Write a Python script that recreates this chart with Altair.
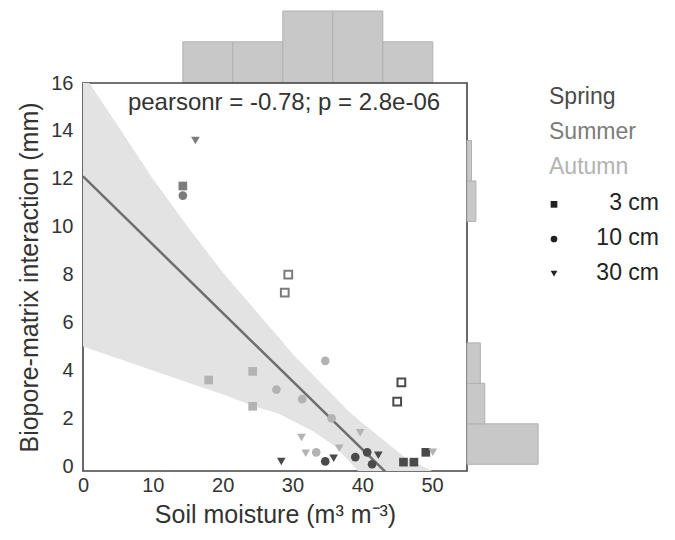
import altair as alt
import pandas as pd
import numpy as np

# ---- data ----
seasons = ["Spring", "Summer", "Autumn"]
season_colors = ["#4a4a4a", "#7c7c7c", "#b3b3b3"]
depths = ["3 cm", "10 cm", "30 cm"]
depth_shapes = ["square", "circle", "triangle-down"]

# filled symbols (used for regression and marginal histograms)
moisture = [16.1, 14.3, 14.3, 18.0, 24.3, 24.3, 27.7, 34.7, 31.4, 35.6, 31.3, 39.7, 31.9,
            33.4, 36.7, 28.4, 34.7, 35.9, 39.0, 40.7, 42.3, 41.4, 45.9, 47.4, 49.1, 50.1]
interaction = [13.6, 11.7, 11.3, 3.6, 3.96, 2.5, 3.2, 4.4, 2.8, 2.0, 1.2, 1.4, 0.54,
               0.58, 0.75, 0.2, 0.2, 0.33, 0.38, 0.58, 0.46, 0.08, 0.17, 0.17, 0.58, 0.58]
season = ["Summer", "Summer", "Summer", "Autumn", "Autumn", "Autumn", "Autumn", "Autumn",
          "Autumn", "Autumn", "Autumn", "Autumn", "Autumn", "Autumn", "Autumn", "Spring",
          "Spring", "Spring", "Spring", "Spring", "Spring", "Spring", "Spring", "Spring",
          "Spring", "Autumn"]
depth = ["30 cm", "3 cm", "10 cm", "3 cm", "3 cm", "3 cm", "10 cm", "10 cm", "10 cm",
         "10 cm", "30 cm", "30 cm", "30 cm", "10 cm", "30 cm", "30 cm", "10 cm", "30 cm",
         "10 cm", "10 cm", "30 cm", "10 cm", "3 cm", "3 cm", "3 cm", "30 cm"]

# open symbols (excluded points)
open_moisture = [29.4, 28.9, 45.6, 45.0]
open_interaction = [8.0, 7.25, 3.5, 2.7]
open_season = ["Summer", "Summer", "Spring", "Spring"]
open_depth = ["3 cm", "3 cm", "3 cm", "3 cm"]

# confidence band edges
band_x = [0, 5, 10, 15, 20, 25, 28, 30, 33, 36, 38, 40, 43, 46, 50, 55]
band_lo = [5.0, 4.5, 4.0, 3.5, 3.0, 2.45, 2.2, 1.9, 1.45, 0.85, 0.25, -0.4, -1.3, -2.2, -3.4, -5.0]
band_hi = [16.4, 14.2, 12.0, 10.0, 8.1, 6.4, 5.4, 4.7, 3.8, 2.9, 2.3, 1.8, 1.1, 0.4, -0.2, -1.2]

annotation = "pearsonr = -0.78; p = 2.8e-06"
x_title = "Soil moisture (m\u00b3 m\u207b\u00b3)"
y_title = "Biopore-matrix interaction (mm)"

FONT = "Liberation Sans"
TXT = "#333333"
W, H = 384, 388
XDOM = [0, 55]
YDOM = [-0.2, 16]

pts = pd.DataFrame({"x": moisture, "y": interaction, "season": season, "depth": depth})
opn = pd.DataFrame({"x": open_moisture, "y": open_interaction, "season": open_season,
                    "depth": open_depth})
band = pd.DataFrame({"x": band_x, "lo": band_lo, "hi": band_hi})

color_scale = alt.Scale(domain=seasons, range=season_colors)
shape_scale = alt.Scale(domain=depths, range=depth_shapes)
xs = alt.Scale(domain=XDOM, nice=False, zero=False)
ys = alt.Scale(domain=YDOM, nice=False, zero=False)

x_axis = alt.Axis(title=x_title, values=[0, 10, 20, 30, 40, 50], ticks=False, grid=False,
                  labelFontSize=20, titleFontSize=25, labelPadding=4, titlePadding=7,
                  labelFlush=False, domain=False, labelFont=FONT, titleFont=FONT,
                  labelColor=TXT, titleColor=TXT, titleFontWeight="normal")
y_axis = alt.Axis(title=y_title, values=list(range(0, 17, 2)), ticks=False, grid=False,
                  labelFontSize=20, titleFontSize=25, labelPadding=10, titlePadding=8,
                  labelFlush=False, domain=False, labelFont=FONT, titleFont=FONT,
                  labelColor=TXT, titleColor=TXT, titleFontWeight="normal")

band_layer = alt.Chart(band).mark_area(color="#e3e3e3", clip=True).encode(
    x=alt.X("x:Q", scale=xs, axis=x_axis),
    y=alt.Y("lo:Q", scale=ys, axis=y_axis),
    y2="hi:Q",
)

reg_layer = alt.Chart(pts).transform_regression(
    "x", "y", extent=XDOM
).mark_line(color="#6e6e6e", strokeWidth=2.5, clip=True).encode(
    x=alt.X("x:Q", scale=xs),
    y=alt.Y("y:Q", scale=ys),
)

pt_layer = alt.Chart(pts).mark_point(filled=True, size=75, opacity=1).encode(
    x=alt.X("x:Q", scale=xs),
    y=alt.Y("y:Q", scale=ys),
    color=alt.Color("season:N", scale=color_scale, legend=None),
    shape=alt.Shape("depth:N", scale=shape_scale, legend=None),
)

open_layer = alt.Chart(opn).mark_point(filled=False, size=60, strokeWidth=2, opacity=1).encode(
    x=alt.X("x:Q", scale=xs),
    y=alt.Y("y:Q", scale=ys),
    color=alt.Color("season:N", scale=color_scale, legend=None),
    shape=alt.Shape("depth:N", scale=shape_scale, legend=None),
)

text_layer = alt.Chart(pd.DataFrame({"t": [annotation]})).mark_text(
    font=FONT, fontSize=24, color=TXT, align="center", baseline="middle"
).encode(x=alt.value(W / 2 + 9), y=alt.value(20), text="t:N")

main = alt.layer(band_layer, reg_layer, pt_layer, open_layer, text_layer).properties(
    width=W, height=H, view=alt.ViewBackground(stroke="#444444", strokeWidth=1.6)
)

# marginal histograms (numpy bins over the data range, like matplotlib)
cx, ex = np.histogram(np.array(moisture), bins=5)
cy, ey = np.histogram(np.array(interaction), bins=8)
hx = pd.DataFrame({"a": ex[:-1], "b": ex[1:], "n": cx})
hy = pd.DataFrame({"a": ey[:-1], "b": ey[1:], "n": cy})
hx = hx[hx["n"] > 0]
hy = hy[hy["n"] > 0]

top = alt.Chart(hx).mark_rect(color="#c8c8c8", stroke="#b0b0b0", strokeWidth=1).encode(
    x=alt.X("a:Q", scale=xs, axis=None),
    x2="b:Q",
    y=alt.Y("n:Q", scale=alt.Scale(domain=[0, 8.07], nice=False), axis=None),
    y2=alt.datum(0),
).properties(width=W, height=83)

right = alt.Chart(hy).mark_rect(color="#c8c8c8", stroke="#b0b0b0", strokeWidth=1).encode(
    y=alt.Y("a:Q", scale=ys, axis=None),
    y2="b:Q",
    x=alt.X("n:Q", scale=alt.Scale(domain=[0, 18], nice=False), axis=None),
    x2=alt.datum(0),
).properties(width=80, height=H)

# custom legend
leg = pd.DataFrame({
    "row": [0, 1, 2, 3, 4, 5],
    "label": seasons + depths,
    "season": seasons + [None, None, None],
    "depth": [None, None, None] + depths,
})
ly = alt.Y("row:O", axis=None, scale=alt.Scale(paddingInner=0, paddingOuter=0))
leg_season = alt.Chart(leg).transform_filter("datum.season != null").mark_text(
    font=FONT, fontSize=23, align="left", baseline="middle", dy=-3
).encode(
    y=ly, x=alt.value(2), text="label:N",
    color=alt.Color("season:N", scale=color_scale, legend=None),
)
leg_shape = alt.Chart(leg).transform_filter("datum.depth != null").mark_point(
    filled=True, size=45, color="#222222", opacity=1
).encode(
    y=ly, x=alt.value(7),
    shape=alt.Shape("depth:N", scale=shape_scale, legend=None),
)
leg_depth = alt.Chart(leg).transform_filter("datum.depth != null").mark_text(
    font=FONT, fontSize=23, align="right", baseline="middle", color="#222222", dy=-1
).encode(y=ly, x=alt.value(112), text="label:N")
legend = alt.layer(leg_season, leg_shape, leg_depth).properties(width=120, height=208)

chart = alt.vconcat(
    top,
    alt.hconcat(main, right, legend, spacing=0, bounds="flush"),
    spacing=0, bounds="flush",
).configure(
    padding={"left": 16, "top": 0, "right": 0, "bottom": 5},
    view=alt.ViewConfig(stroke=None),
)

chart.save("out.html", embed_options={"renderer": "svg", "actions": False})
